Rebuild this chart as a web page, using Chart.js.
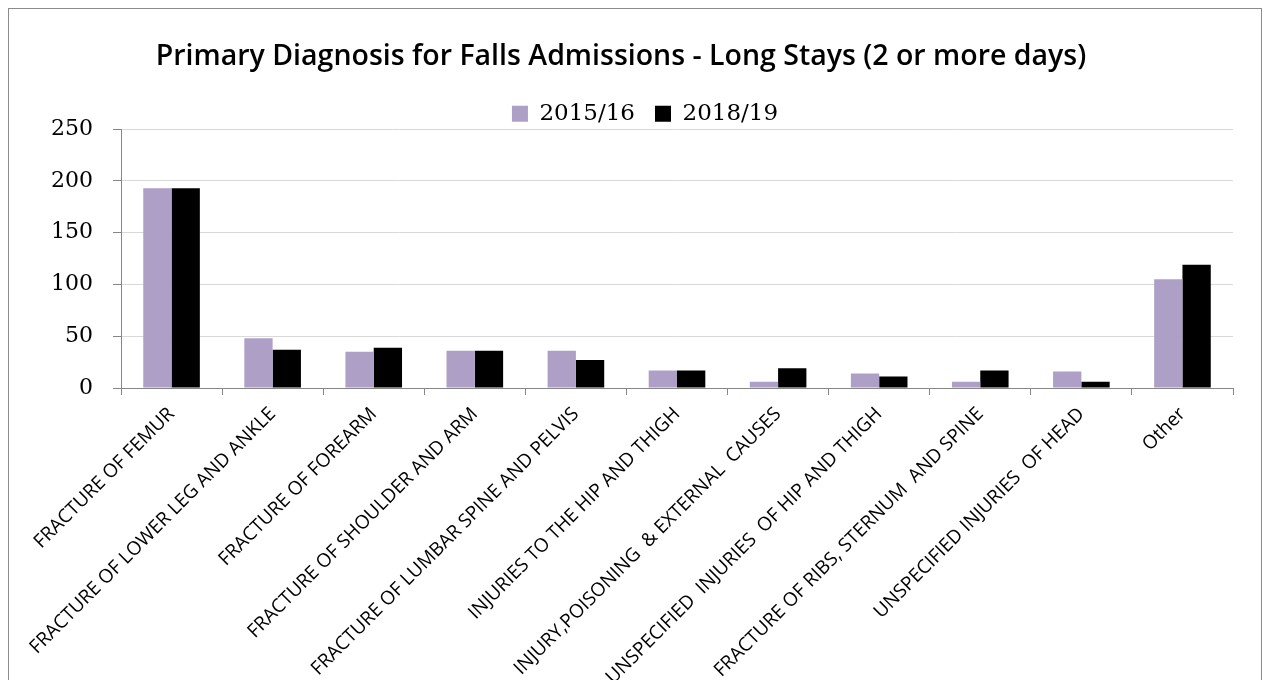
<!DOCTYPE html>
<html>
<head>
<meta charset="utf-8">
<script src="https://cdn.jsdelivr.net/npm/chart.js@4"></script>
<style>
  html, body { margin: 0; padding: 0; background: #fff; overflow: hidden; }
  #frame {
    position: absolute; left: 8px; top: 8px;
    width: 1252px; height: 760px;
    border: 1px solid #8c8c8c;
  }
</style>
</head>
<body>
<div id="frame"><canvas id="myChart"></canvas></div>
<script>
'use strict';

// -------------------- data --------------------
const categories = [
  'FRACTURE OF FEMUR',
  'FRACTURE OF LOWER LEG AND ANKLE',
  'FRACTURE OF FOREARM',
  'FRACTURE OF SHOULDER AND ARM',
  'FRACTURE OF LUMBAR SPINE AND PELVIS',
  'INJURIES TO THE HIP AND THIGH',
  'INJURY,POISONING  & EXTERNAL  CAUSES',
  'UNSPECIFIED  INJURIES  OF HIP AND THIGH',
  'FRACTURE OF RIBS, STERNUM  AND SPINE',
  'UNSPECIFIED INJURIES  OF HEAD',
  'Other'
];
const seriesNames = ['2015/16', '2018/19'];
const values1516 = [193, 48, 35, 36, 36, 17, 6, 14, 6, 16, 105];
const values1819 = [193, 37, 39, 36, 27, 17, 19, 11, 17, 6, 119];
const yTicks = [0, 50, 100, 150, 200, 250];

// -------------------- chart --------------------
{
  // 凡例を少し右下へずらす
  const nudgeLegend = {
    id: 'nudgeLegend',
    afterLayout(chart) {
      const legend = chart.legend;
      legend.top += 6;
      legend.bottom += 6;
      legend.left += 24;
      legend.right += 24;
    }
  };

  const ctx = document.getElementById('myChart').getContext('2d');
  new Chart(ctx, {
    type: 'bar',
    data: {
      labels: categories,
      datasets: [{
        label: seriesNames[0],
        data: values1516,
        backgroundColor: '#ae9fc6',
        categoryPercentage: 0.56,
        barPercentage: 1
      }, {
        label: seriesNames[1],
        data: values1819,
        backgroundColor: '#000000',
        categoryPercentage: 0.56,
        barPercentage: 1
      }]
    },
    plugins: [nudgeLegend],
    options: {
      responsive: true,
      maintainAspectRatio: false,
      animation: false,
      layout: { padding: { left: 0, right: 28, top: 0, bottom: 0 } },
      plugins: {
        tooltip: { enabled: false },
        title: {
          display: true,
          text: 'Primary Diagnosis for Falls Admissions - Long Stays (2 or more days)',
          color: '#000',
          font: { family: 'Open Sans', size: 28.5, weight: '600' },
          padding: { top: 31, bottom: 2 }
        },
        legend: {
          labels: {
            color: '#000',
            font: { family: 'DejaVu Serif', size: 23 },
            boxWidth: 16,
            boxHeight: 16,
            padding: 20
          }
        }
      },
      scales: {
        x: {
          afterFit: (scale) => { scale.height = 381; },
          grid: {
            offset: true,
            drawOnChartArea: false,
            tickLength: 7,
            color: '#868686'
          },
          border: { color: '#868686' },
          ticks: {
            color: '#000',
            font: { family: 'Open Sans', size: 19 },
            minRotation: 45,
            maxRotation: 45,
            autoSkip: false,
            padding: 8
          }
        },
        y: {
          min: 0,
          max: 250,
          afterFit: (scale) => { scale.width = 112; },
          afterBuildTicks: (scale) => { scale.ticks = yTicks.map(v => ({ value: v })); },
          grid: {
            color: (c) => c.tick && c.tick.value === 0 ? '#868686' : '#d9d9d9',
            tickColor: '#868686',
            tickLength: 8
          },
          border: { color: '#868686' },
          ticks: {
            color: '#000',
            font: { family: 'DejaVu Serif', size: 22 },
            padding: 20
          }
        }
      }
    }
  });
}
</script>
</body>
</html>
